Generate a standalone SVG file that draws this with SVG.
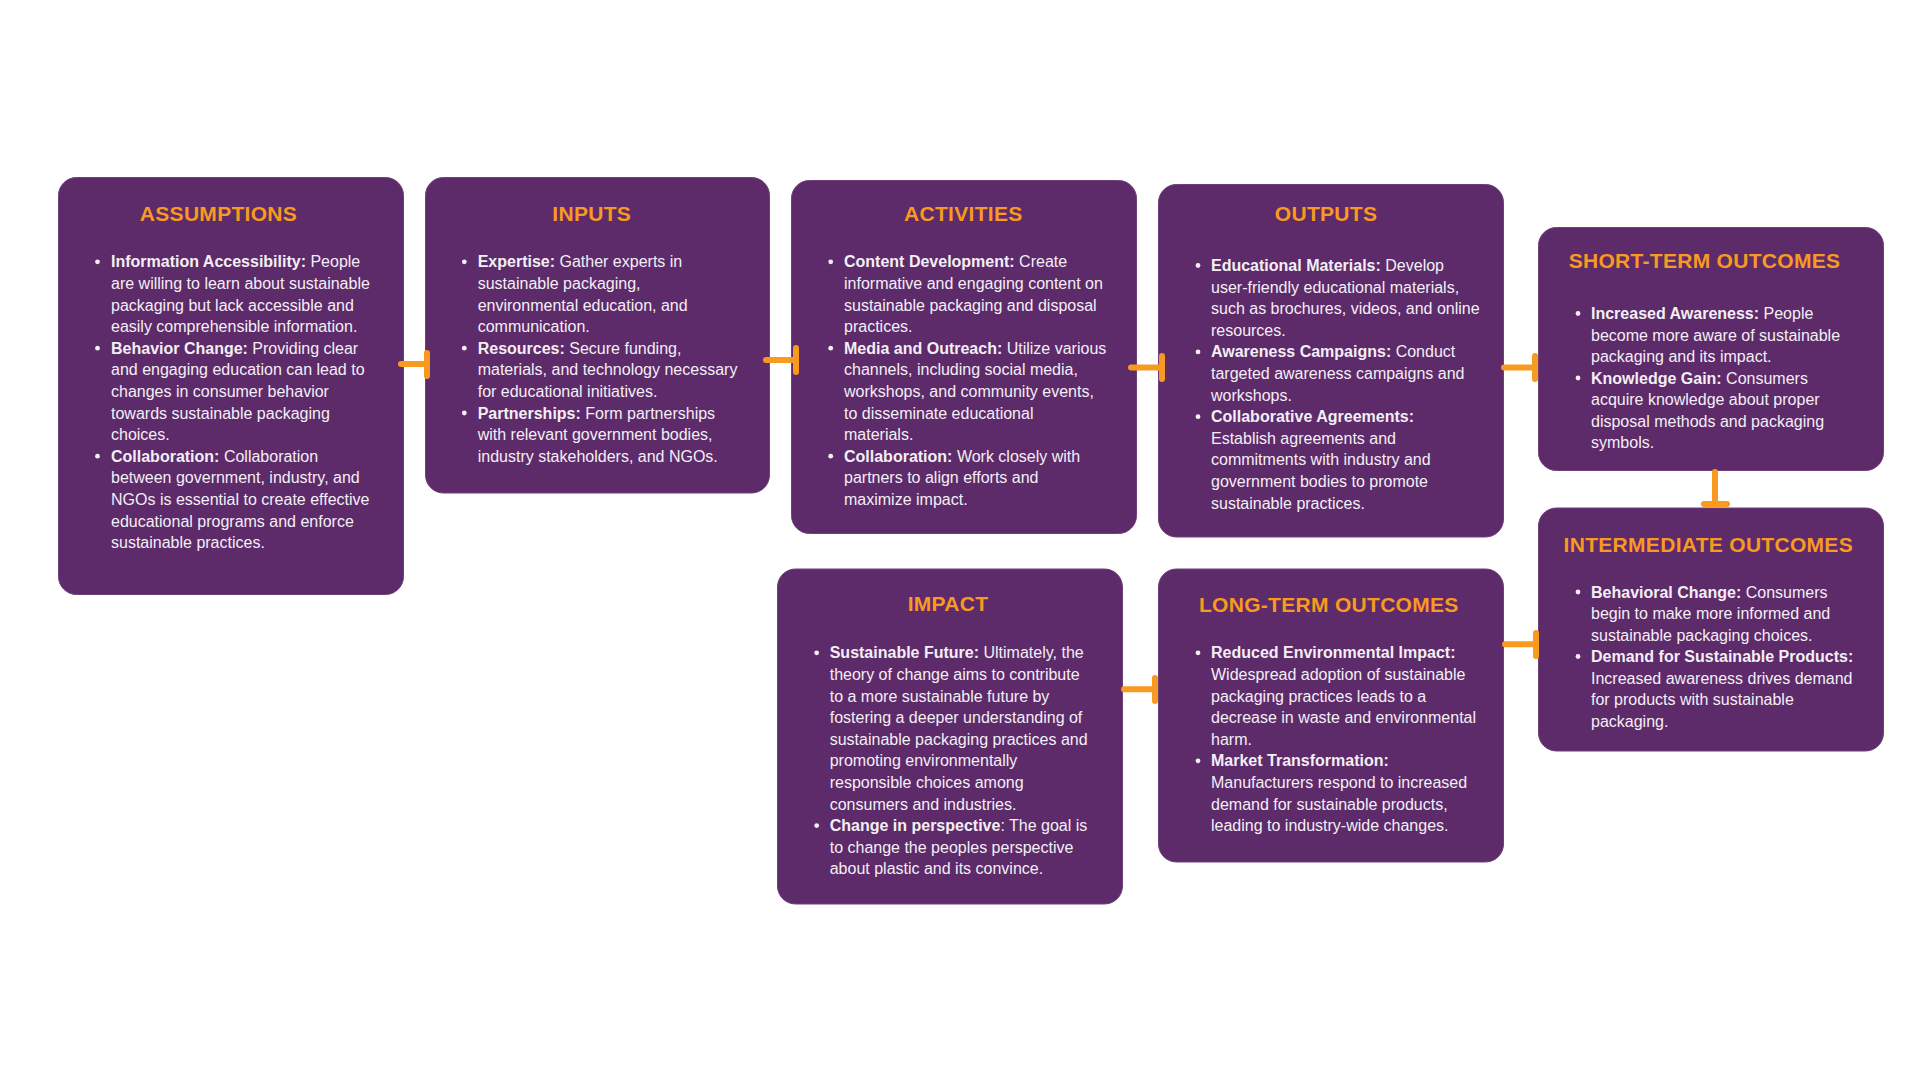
<svg xmlns="http://www.w3.org/2000/svg" width="1920" height="1080" viewBox="0 0 1920 1080">
<style>
.box{fill:#5D2A6A;stroke:#6E3F7A;stroke-width:1}
.title{font-family:"Liberation Sans",Arial,sans-serif;font-weight:700;font-size:21px;fill:#F89A1F;text-anchor:middle;letter-spacing:0.3px}
.body{font-family:"Liberation Sans",Arial,sans-serif;font-size:16px;fill:#F3EFF5}
.b{font-weight:700}
.dot{fill:#F3EFF5}
.conn{stroke:#F89A1F;stroke-width:6;stroke-linecap:round;fill:none}
</style>
<rect width="1920" height="1080" fill="#FFFFFF"/>

<g id="assumptions">
<rect class="box" x="58.5" y="177.5" width="345" height="417" rx="18"/>
<text class="title" x="218.5" y="220.7">ASSUMPTIONS</text>
<circle class="dot" cx="97.5" cy="261.8" r="2.4"/>
<circle class="dot" cx="97.5" cy="348.2" r="2.4"/>
<circle class="dot" cx="97.5" cy="456.2" r="2.4"/>
<text class="body">
<tspan x="111" y="267.3"><tspan class="b">Information Accessibility:</tspan> People</tspan>
<tspan x="111" y="288.9">are willing to learn about sustainable</tspan>
<tspan x="111" y="310.5">packaging but lack accessible and</tspan>
<tspan x="111" y="332.1">easily comprehensible information.</tspan>
<tspan x="111" y="353.7"><tspan class="b">Behavior Change:</tspan> Providing clear</tspan>
<tspan x="111" y="375.3">and engaging education can lead to</tspan>
<tspan x="111" y="396.9">changes in consumer behavior</tspan>
<tspan x="111" y="418.5">towards sustainable packaging</tspan>
<tspan x="111" y="440.1">choices.</tspan>
<tspan x="111" y="461.7"><tspan class="b">Collaboration:</tspan> Collaboration</tspan>
<tspan x="111" y="483.3">between government, industry, and</tspan>
<tspan x="111" y="504.9">NGOs is essential to create effective</tspan>
<tspan x="111" y="526.5">educational programs and enforce</tspan>
<tspan x="111" y="548.1">sustainable practices.</tspan>
</text>
</g>

<g id="inputs">
<rect class="box" x="425.5" y="177.5" width="344" height="315.5" rx="18"/>
<text class="title" x="591.7" y="220.7">INPUTS</text>
<circle class="dot" cx="464.3" cy="261.8" r="2.4"/>
<circle class="dot" cx="464.3" cy="348.2" r="2.4"/>
<circle class="dot" cx="464.3" cy="413" r="2.4"/>
<text class="body">
<tspan x="477.7" y="267.3"><tspan class="b">Expertise:</tspan> Gather experts in</tspan>
<tspan x="477.7" y="288.9">sustainable packaging,</tspan>
<tspan x="477.7" y="310.5">environmental education, and</tspan>
<tspan x="477.7" y="332.1">communication.</tspan>
<tspan x="477.7" y="353.7"><tspan class="b">Resources:</tspan> Secure funding,</tspan>
<tspan x="477.7" y="375.3">materials, and technology necessary</tspan>
<tspan x="477.7" y="396.9">for educational initiatives.</tspan>
<tspan x="477.7" y="418.5"><tspan class="b">Partnerships:</tspan> Form partnerships</tspan>
<tspan x="477.7" y="440.1">with relevant government bodies,</tspan>
<tspan x="477.7" y="461.7">industry stakeholders, and NGOs.</tspan>
</text>
</g>

<g id="activities">
<rect class="box" x="791.5" y="180.5" width="345" height="353" rx="18"/>
<text class="title" x="963.3" y="220.7">ACTIVITIES</text>
<circle class="dot" cx="830.7" cy="261.8" r="2.4"/>
<circle class="dot" cx="830.7" cy="348.2" r="2.4"/>
<circle class="dot" cx="830.7" cy="456.2" r="2.4"/>
<text class="body">
<tspan x="844" y="267.3"><tspan class="b">Content Development:</tspan> Create</tspan>
<tspan x="844" y="288.9">informative and engaging content on</tspan>
<tspan x="844" y="310.5">sustainable packaging and disposal</tspan>
<tspan x="844" y="332.1">practices.</tspan>
<tspan x="844" y="353.7"><tspan class="b">Media and Outreach:</tspan> Utilize various</tspan>
<tspan x="844" y="375.3">channels, including social media,</tspan>
<tspan x="844" y="396.9">workshops, and community events,</tspan>
<tspan x="844" y="418.5">to disseminate educational</tspan>
<tspan x="844" y="440.1">materials.</tspan>
<tspan x="844" y="461.7"><tspan class="b">Collaboration:</tspan> Work closely with</tspan>
<tspan x="844" y="483.3">partners to align efforts and</tspan>
<tspan x="844" y="504.9">maximize impact.</tspan>
</text>
</g>

<g id="outputs">
<rect class="box" x="1158.5" y="184.5" width="345" height="352.5" rx="18"/>
<text class="title" x="1326" y="220.7">OUTPUTS</text>
<circle class="dot" cx="1198" cy="265.5" r="2.4"/>
<circle class="dot" cx="1198" cy="351.9" r="2.4"/>
<circle class="dot" cx="1198" cy="416.7" r="2.4"/>
<text class="body">
<tspan x="1211" y="271"><tspan class="b">Educational Materials:</tspan> Develop</tspan>
<tspan x="1211" y="292.6">user-friendly educational materials,</tspan>
<tspan x="1211" y="314.2">such as brochures, videos, and online</tspan>
<tspan x="1211" y="335.8">resources.</tspan>
<tspan x="1211" y="357.4"><tspan class="b">Awareness Campaigns:</tspan> Conduct</tspan>
<tspan x="1211" y="379">targeted awareness campaigns and</tspan>
<tspan x="1211" y="400.6">workshops.</tspan>
<tspan x="1211" y="422.2" class="b">Collaborative Agreements:</tspan>
<tspan x="1211" y="443.8">Establish agreements and</tspan>
<tspan x="1211" y="465.4">commitments with industry and</tspan>
<tspan x="1211" y="487">government bodies to promote</tspan>
<tspan x="1211" y="508.6">sustainable practices.</tspan>
</text>
</g>

<g id="short-term-outcomes">
<rect class="box" x="1538.5" y="227.5" width="345" height="243" rx="18"/>
<text class="title" x="1704.5" y="268">SHORT-TERM OUTCOMES</text>
<circle class="dot" cx="1578" cy="313.5" r="2.4"/>
<circle class="dot" cx="1578" cy="378" r="2.4"/>
<text class="body">
<tspan x="1591" y="319"><tspan class="b">Increased Awareness:</tspan> People</tspan>
<tspan x="1591" y="340.5">become more aware of sustainable</tspan>
<tspan x="1591" y="362">packaging and its impact.</tspan>
<tspan x="1591" y="383.5"><tspan class="b">Knowledge Gain:</tspan> Consumers</tspan>
<tspan x="1591" y="405">acquire knowledge about proper</tspan>
<tspan x="1591" y="426.5">disposal methods and packaging</tspan>
<tspan x="1591" y="448">symbols.</tspan>
</text>
</g>

<g id="intermediate-outcomes">
<rect class="box" x="1538.5" y="508" width="345" height="243" rx="18"/>
<text class="title" x="1708.3" y="552">INTERMEDIATE OUTCOMES</text>
<circle class="dot" cx="1578" cy="592" r="2.4"/>
<circle class="dot" cx="1578" cy="656.5" r="2.4"/>
<text class="body">
<tspan x="1591" y="597.5"><tspan class="b">Behavioral Change:</tspan> Consumers</tspan>
<tspan x="1591" y="619">begin to make more informed and</tspan>
<tspan x="1591" y="640.5">sustainable packaging choices.</tspan>
<tspan x="1591" y="662" class="b">Demand for Sustainable Products:</tspan>
<tspan x="1591" y="683.5">Increased awareness drives demand</tspan>
<tspan x="1591" y="705">for products with sustainable</tspan>
<tspan x="1591" y="726.5">packaging.</tspan>
</text>
</g>

<g id="long-term-outcomes">
<rect class="box" x="1158.5" y="569" width="345" height="293" rx="18"/>
<text class="title" x="1328.8" y="612.3">LONG-TERM OUTCOMES</text>
<circle class="dot" cx="1198" cy="652.8" r="2.4"/>
<circle class="dot" cx="1198" cy="760.8" r="2.4"/>
<text class="body">
<tspan x="1211" y="658.3" class="b">Reduced Environmental Impact:</tspan>
<tspan x="1211" y="679.9">Widespread adoption of sustainable</tspan>
<tspan x="1211" y="701.5">packaging practices leads to a</tspan>
<tspan x="1211" y="723.1">decrease in waste and environmental</tspan>
<tspan x="1211" y="744.7">harm.</tspan>
<tspan x="1211" y="766.3" class="b">Market Transformation:</tspan>
<tspan x="1211" y="787.9">Manufacturers respond to increased</tspan>
<tspan x="1211" y="809.5">demand for sustainable products,</tspan>
<tspan x="1211" y="831.1">leading to industry-wide changes.</tspan>
</text>
</g>

<g id="impact">
<rect class="box" x="777.5" y="569" width="345" height="335" rx="18"/>
<text class="title" x="948" y="610.7">IMPACT</text>
<circle class="dot" cx="816.7" cy="652.8" r="2.4"/>
<circle class="dot" cx="816.7" cy="825.6" r="2.4"/>
<text class="body">
<tspan x="829.7" y="658.3"><tspan class="b">Sustainable Future:</tspan> Ultimately, the</tspan>
<tspan x="829.7" y="679.9">theory of change aims to contribute</tspan>
<tspan x="829.7" y="701.5">to a more sustainable future by</tspan>
<tspan x="829.7" y="723.1">fostering a deeper understanding of</tspan>
<tspan x="829.7" y="744.7">sustainable packaging practices and</tspan>
<tspan x="829.7" y="766.3">promoting environmentally</tspan>
<tspan x="829.7" y="787.9">responsible choices among</tspan>
<tspan x="829.7" y="809.5">consumers and industries.</tspan>
<tspan x="829.7" y="831.1"><tspan class="b">Change in perspective</tspan>: The goal is</tspan>
<tspan x="829.7" y="852.7">to change the peoples perspective</tspan>
<tspan x="829.7" y="874.3">about plastic and its convince.</tspan>
</text>
</g>

<g id="connectors">
<path class="conn" d="M401 364 H427 M427 353 V376"/>
<path class="conn" d="M766 360 H796 M796 348 V372"/>
<path class="conn" d="M1131 367.5 H1162 M1162 356 V379"/>
<path class="conn" d="M1504 367.5 H1535 M1535 356 V379"/>
<path class="conn" d="M1715 472 V504 M1704 504 H1727"/>
<path class="conn" d="M1124 689.3 H1155 M1155 678 V701"/>
<path class="conn" d="M1505 644.3 H1536 M1536 633 V656"/>
</g>
</svg>
